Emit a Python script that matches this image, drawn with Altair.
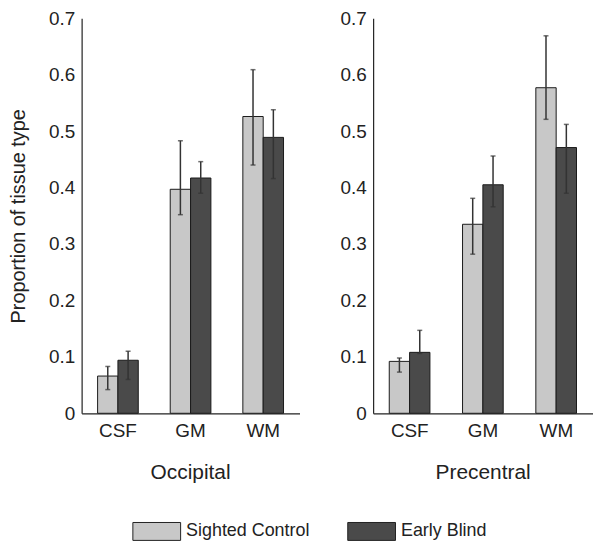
import altair as alt
import pandas as pd

regions = ["Occipital", "Precentral"]
tissues = ["CSF", "GM", "WM"]
groups = ["Sighted Control", "Early Blind"]

# values per region: [tissue][group]
occ_mean = [[0.066, 0.094], [0.397, 0.417], [0.526, 0.489]]
occ_lo = [[0.042, 0.060], [0.352, 0.390], [0.440, 0.416]]
occ_hi = [[0.083, 0.110], [0.483, 0.446], [0.609, 0.538]]

pre_mean = [[0.092, 0.108], [0.335, 0.405], [0.577, 0.471]]
pre_lo = [[0.073, 0.106], [0.282, 0.366], [0.521, 0.390]]
pre_hi = [[0.098, 0.147], [0.381, 0.456], [0.669, 0.512]]

colors = ["#c8c8c8", "#4a4a4a"]
FONT = "Liberation Sans"
TXT = "#222222"


def make_df(mean, lo, hi):
    rows = []
    for i, t in enumerate(tissues):
        for j, g in enumerate(groups):
            rows.append({"tissue": t, "group": g, "value": mean[i][j],
                         "lo": lo[i][j], "hi": hi[i][j]})
    return pd.DataFrame(rows)


def panel(df, name, show_title, width):
    x = alt.X("tissue:N", sort=tissues,
              scale=alt.Scale(paddingInner=0.44, paddingOuter=0.22),
              axis=alt.Axis(title=None, labelAngle=0, ticks=False, labelPadding=8,
                            labelFontSize=19, labelColor=TXT, labelFont=FONT,
                            domainColor="#222222", domainWidth=1.2))
    xo = alt.XOffset("group:N", sort=groups,
                     scale=alt.Scale(paddingInner=0, paddingOuter=0))
    yscale = alt.Scale(domain=[0, 0.7], nice=False)
    yaxis = alt.Axis(values=[0, 0.1, 0.2, 0.3, 0.4, 0.5, 0.6, 0.7], format=".1~f",
                     grid=False, ticks=False, labelPadding=7, labelFontSize=19,
                     labelColor=TXT, labelFont=FONT, domainColor="#222222",
                     domainWidth=1.2,
                     title="Proportion of tissue type" if show_title else None,
                     titleFontSize=20, titleFontWeight="normal", titleFont=FONT,
                     titleColor=TXT, titlePadding=20)
    base = alt.Chart(df)
    bars = base.mark_bar(stroke="#1a1a1a", strokeWidth=1).encode(
        x=x, xOffset=xo,
        y=alt.Y("value:Q", scale=yscale, axis=yaxis),
        color=alt.Color("group:N", sort=groups,
                        scale=alt.Scale(domain=groups, range=colors),
                        legend=alt.Legend(orient="none", legendX=51, legendY=491,
                                          direction="horizontal",
                                          title=None,
                                          symbolType="M-1,-0.375H1V0.375H-1Z",
                                          symbolSize=2304, symbolStrokeColor="#222222",
                                          symbolStrokeWidth=1, symbolOpacity=1,
                                          labelFontSize=18, labelFont=FONT,
                                          labelColor=TXT, columnPadding=35,
                                          labelOffset=5)),
    )
    err = base.mark_rule(color="#333333", strokeWidth=1.5).encode(
        x=x, xOffset=xo, y=alt.Y("lo:Q", scale=yscale), y2="hi:Q")
    cap_lo = base.mark_tick(color="#333333", orient="horizontal", size=5,
                            thickness=1.5).encode(
        x=x, xOffset=xo, y=alt.Y("lo:Q", scale=yscale))
    cap_hi = base.mark_tick(color="#333333", orient="horizontal", size=5,
                            thickness=1.5).encode(
        x=x, xOffset=xo, y=alt.Y("hi:Q", scale=yscale))
    return alt.layer(bars, err, cap_lo, cap_hi).properties(
        width=width, height=397,
        title=alt.TitleParams(name, orient="bottom", fontSize=21,
                              fontWeight="normal", font=FONT, color=TXT, offset=22),
    )


left = panel(make_df(occ_mean, occ_lo, occ_hi), regions[0], True, 219)
right = panel(make_df(pre_mean, pre_lo, pre_hi), regions[1], False, 221)

chart = alt.hconcat(left, right, spacing=40).properties(
    padding={"left": 0, "top": 0, "right": 0, "bottom": 0}
).configure_view(strokeWidth=0, stroke="transparent")

chart.save("out.html", embed_options={"renderer": "svg", "actions": False})
